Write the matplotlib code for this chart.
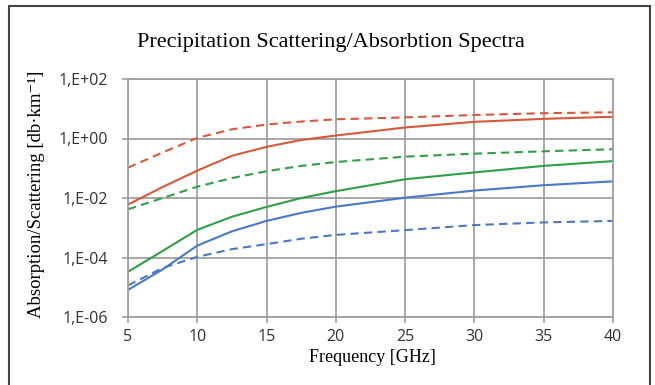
import numpy as np
import matplotlib.pyplot as plt
from matplotlib.patches import Rectangle

# frequency points [GHz] and log10 of values
freq = [5, 7.5, 10, 12.5, 15, 17.5, 20, 25, 30, 35, 40]
orange_dash = [-0.98, -0.47, 0.02, 0.31, 0.47, 0.57, 0.645, 0.71, 0.79, 0.85, 0.88]
orange_solid = [-2.22, -1.63, -1.08, -0.58, -0.28, -0.05, 0.10, 0.37, 0.56, 0.66, 0.73]
green_dash = [-2.38, -2.00, -1.62, -1.33, -1.10, -0.92, -0.79, -0.61, -0.51, -0.43, -0.36]
green_solid = [-4.48, -3.78, -3.07, -2.63, -2.30, -2.00, -1.77, -1.37, -1.14, -0.92, -0.76]
blue_solid = [-5.09, -4.40, -3.60, -3.12, -2.77, -2.50, -2.29, -1.99, -1.75, -1.57, -1.44]
blue_dash = [-4.94, -4.35, -3.98, -3.72, -3.55, -3.37, -3.24, -3.08, -2.91, -2.82, -2.77]

yticks = [1e-6, 1e-4, 1e-2, 1e0, 1e2]
ylabels = ['1,E-06', '1,E-04', '1,E-02', '1,E+00', '1,E+02']
xticks = [5, 10, 15, 20, 25, 30, 35, 40]

c_orange = '#d8593a'
c_green = '#30a046'
c_blue = '#4a78c8'

fig = plt.figure(figsize=(6.55, 3.85), dpi=100)
ax = fig.add_axes([128/655, 1-317/385, (613-128)/655, (317-79)/385])

lw = 1.5
ax.plot(freq, 10**np.array(orange_dash), color=c_orange, lw=lw, dashes=(4, 2.5))
ax.plot(freq, 10**np.array(orange_solid), color=c_orange, lw=lw)
ax.plot(freq, 10**np.array(green_dash), color=c_green, lw=lw, dashes=(4, 2.5))
ax.plot(freq, 10**np.array(green_solid), color=c_green, lw=lw)
ax.plot(freq, 10**np.array(blue_dash), color=c_blue, lw=lw, dashes=(4, 2.5))
ax.plot(freq, 10**np.array(blue_solid), color=c_blue, lw=lw)

ax.set_yscale('log')
ax.set_ylim(1e-6, 1e2)
ax.set_xlim(5, 40)
ax.set_yticks(yticks)
ax.set_yticklabels(ylabels)
ax.minorticks_off()
ax.set_xticks(xticks)
ax.grid(True, color='#a0a0a0', lw=1.3)
ax.set_axisbelow(True)
for s in ax.spines.values():
    s.set_color('#a0a0a0')
    s.set_linewidth(1.3)
ax.tick_params(length=4.5, width=1.2, color='#a0a0a0', labelsize=11.5)
ax.tick_params(axis='y', pad=10)
ax.tick_params(axis='x', pad=4)
for t in ax.get_xticklabels() + ax.get_yticklabels():
    t.set_fontfamily('Open Sans')
    t.set_color('#333333')

fig.text(331/655, 1-42/385, 'Precipitation Scattering/Absorbtion Spectra',
         ha='center', va='center', fontsize=16, family='Liberation Serif')
fig.text(37/655, 1-194/385, 'Absorption/Scattering [db·km⁻¹]', rotation=90,
         ha='center', va='center', fontsize=13.5,
         family=['Liberation Serif', 'DejaVu Serif'])
fig.text(372/655, 1-357/385, 'Frequency [GHz]', ha='center', va='center',
         fontsize=13, family='Liberation Serif')

fig.patches.append(Rectangle((9/655, -0.1), 641/655, 1.1 - 6/385,
                             transform=fig.transFigure, fill=False,
                             edgecolor='#444444', lw=1.5))

fig.savefig('out.png', dpi=100)
